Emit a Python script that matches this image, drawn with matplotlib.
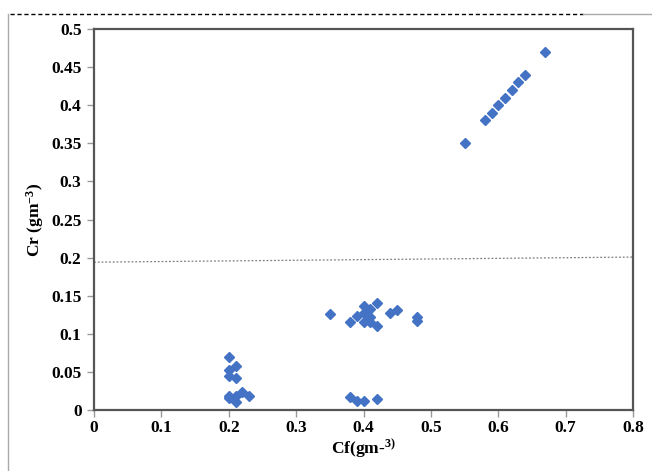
import numpy as np
import matplotlib
matplotlib.use('Agg')
import matplotlib.pyplot as plt
from matplotlib.lines import Line2D

# 字体设置 (Times 风格粗体)
plt.rcParams['font.family'] = ['Liberation Serif', 'DejaVu Serif']
plt.rcParams['font.weight'] = 'bold'
plt.rcParams['mathtext.fontset'] = 'custom'
plt.rcParams['mathtext.rm'] = 'Liberation Serif:bold'
plt.rcParams['mathtext.default'] = 'rm'

# 数据 Cf / Cr
cf_low = [0.20, 0.21, 0.20, 0.20, 0.21, 0.20, 0.20, 0.21, 0.21, 0.22, 0.23]
cr_low = [0.069, 0.058, 0.053, 0.044, 0.042, 0.019, 0.016, 0.010, 0.018, 0.023, 0.018]

cf_mid = [0.35, 0.38, 0.39, 0.40, 0.40, 0.40, 0.41, 0.41, 0.41, 0.42, 0.42, 0.44, 0.45, 0.48, 0.48]
cr_mid = [0.126, 0.115, 0.124, 0.136, 0.127, 0.115, 0.132, 0.122, 0.115, 0.141, 0.110, 0.127, 0.131, 0.122, 0.117]

cf_mid0 = [0.38, 0.39, 0.40, 0.42]
cr_mid0 = [0.017, 0.012, 0.012, 0.014]

cf_high = [0.55, 0.58, 0.59, 0.60, 0.61, 0.62, 0.63, 0.64, 0.67]
cr_high = [0.35, 0.38, 0.39, 0.40, 0.41, 0.42, 0.43, 0.44, 0.47]

# 趋势线端点
trend_x = [0.0, 0.8]
trend_y = [0.194, 0.2007]

xticks = [0, 0.1, 0.2, 0.3, 0.4, 0.5, 0.6, 0.7, 0.8]
yticks = [0, 0.05, 0.1, 0.15, 0.2, 0.25, 0.3, 0.35, 0.4, 0.45, 0.5]

fig = plt.figure(figsize=(6.52, 4.71), dpi=100)
ax = fig.add_axes([0.1442, 0.1295, 0.8267, 0.8089])

cf_all = cf_low + cf_mid + cf_mid0 + cf_high
cr_all = cr_low + cr_mid + cr_mid0 + cr_high
ax.plot(cf_all, cr_all, linestyle='none', marker='D', markersize=5,
        color='#4472C4', zorder=3)
ax.plot(trend_x, trend_y, linestyle=(0, (1.5, 1.5)), color='#7f7f7f', linewidth=0.9, zorder=2)

ax.set_xlim(0, 0.8)
ax.set_ylim(0, 0.5)
ax.set_xticks(xticks)
ax.set_xticklabels(['0', '0.1', '0.2', '0.3', '0.4', '0.5', '0.6', '0.7', '0.8'])
ax.set_yticks(yticks)
ax.set_yticklabels(['0', '0.05', '0.1', '0.15', '0.2', '0.25', '0.3', '0.35', '0.4', '0.45', '0.5'])
ax.tick_params(axis='both', labelsize=12.5, length=5, width=1, color='#999999',
               direction='out', pad=4)
ax.tick_params(axis='x', pad=2)
for s in ax.spines.values():
    s.set_color('#555555')
    s.set_linewidth(1.6)

ax.set_xlabel(r'Cf(gm-$^{3)}$', fontsize=12.5, fontweight='bold', labelpad=1)
ax.set_ylabel(r'Cr (gm$^{-3}$)', fontsize=12.5, fontweight='bold', labelpad=4)

# 外框装饰线
fig.add_artist(Line2D([8 / 652, 8 / 652], [1 - 14 / 471, 0.0], color='#aaaaaa', linewidth=1))
fig.add_artist(Line2D([10 / 652, 583 / 652], [1 - 14 / 471, 1 - 14 / 471],
                      color='black', linewidth=1, linestyle=(0, (3, 2))))
fig.add_artist(Line2D([583 / 652, 1.0], [1 - 14 / 471, 1 - 14 / 471],
                      color='#aaaaaa', linewidth=1))

plt.savefig('out.png', dpi=100)
